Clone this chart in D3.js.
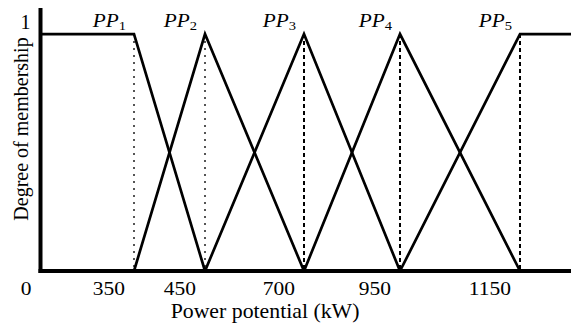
<!DOCTYPE html>
<html>
<head>
<meta charset="utf-8">
<script src="https://cdn.jsdelivr.net/npm/d3@7"></script>
<style>
  body { margin: 0; background: #fff; }
  svg { display: block; }
  svg text { font-family: "Liberation Serif", "Times New Roman", Times, "DejaVu Serif", serif; }
</style>
</head>
<body>
<div class="chart"></div>
<script>
// power potential breakpoints (kW) and tick labels
var tickValues = [0, 350, 450, 700, 950, 1150];
var xMax = 1300;

// membership functions, as [kW, degree] points
var setNames = ["1", "2", "3", "4", "5"];
var pp1 = [[0, 1], [350, 1], [450, 0]];
var pp2 = [[350, 0], [450, 1], [700, 0]];
var pp3 = [[450, 0], [700, 1], [950, 0]];
var pp4 = [[700, 0], [950, 1], [1150, 0]];
var pp5 = [[950, 0], [1150, 1], [1300, 1]];
var sets = [pp1, pp2, pp3, pp4, pp5];

// where each set reaches 1 (label + guide line)
var peaks = [350, 450, 700, 950, 1150];

var serif = "'Liberation Serif', 'Times New Roman', Times, 'DejaVu Serif', serif";

var svgWidth = 571;
var svgHeight = 331;

var svg = d3.select(".chart")
  .append("svg")
  .attr("width", svgWidth)
  .attr("height", svgHeight)
  .attr("font-family", serif);

// the x axis of the original is a schematic, not linear
var xScale = d3.scaleLinear()
  .domain([0, 350, 450, 700, 950, 1150, xMax])
  .range([40.5, 134, 205, 304, 400, 520, 571]);

var yScale = d3.scaleLinear()
  .domain([0, 1.11])
  .range([271, 8]);

// guide lines from the peaks down to the axis
svg.selectAll(".guide")
  .data(peaks)
  .enter()
  .append("line")
  .attr("class", "guide")
  .attr("x1", d => xScale(d))
  .attr("x2", d => xScale(d))
  .attr("y1", yScale(1))
  .attr("y2", yScale(0))
  .attr("stroke", (d, i) => i < 2 ? "#555" : "#000")
  .attr("stroke-width", 2)
  .attr("stroke-dasharray", (d, i) => i < 2 ? "2,5" : "4,3");

// membership lines
var line = d3.line()
  .x(d => xScale(d[0]))
  .y(d => yScale(d[1]));

svg.selectAll(".mf")
  .data(sets)
  .enter()
  .append("path")
  .attr("class", "mf")
  .attr("d", line)
  .attr("fill", "none")
  .attr("stroke", "#000")
  .attr("stroke-width", 2.7)
  .attr("stroke-linejoin", "miter");

// set labels PP1..PP5 (text in the original is a bit wide, so stretch it)
var labels = svg.selectAll(".pp")
  .data(peaks)
  .enter()
  .append("text")
  .attr("class", "pp")
  .attr("transform", d => `translate(${xScale(d) - 8}, 27) scale(1.12, 1)`)
  .attr("text-anchor", "end")
  .style("font-size", "19px")
  .style("font-style", "italic");

labels.append("tspan").text("PP");
labels.append("tspan")
  .attr("dy", 3)
  .style("font-size", "13px")
  .style("font-style", "normal")
  .text((d, i) => setNames[i]);

// x axis
var xAxis = d3.axisBottom(xScale)
  .tickValues(tickValues)
  .tickSize(0)
  .tickSizeOuter(0)
  .tickFormat(d3.format("d"));

var xg = svg.append("g")
  .attr("transform", `translate(0, ${yScale(0)})`)
  .call(xAxis)
  .attr("font-family", serif)
  .attr("font-size", 19);

xg.select(".domain")
  .attr("d", `M${xScale(0) - 2},0H${svgWidth}`)
  .attr("stroke-width", 4);

xg.selectAll("text")
  .attr("x", -8.5)
  .attr("y", 24)
  .attr("dy", 0)
  .attr("transform", "scale(1.13, 1)")
  .attr("text-anchor", "end")
  .attr("fill", "#000");

// y axis
var yAxis = d3.axisLeft(yScale)
  .tickValues([1])
  .tickSize(0)
  .tickSizeOuter(0)
  .tickFormat(d3.format("d"));

var yg = svg.append("g")
  .attr("transform", `translate(${xScale(0)}, 0)`)
  .call(yAxis)
  .attr("font-family", serif)
  .attr("font-size", 20);

yg.select(".domain")
  .attr("d", `M0,${yScale(0) + 2}V${yScale(1.11)}`)
  .attr("stroke-width", 4);

yg.selectAll("text")
  .attr("x", -10)
  .attr("dy", "-0.3em")
  .attr("fill", "#000");

// axis titles
svg.append("text")
  .attr("transform", "translate(265, 318) scale(1.09, 1)")
  .attr("text-anchor", "middle")
  .style("font-size", "20px")
  .text("Power potential (kW)");

svg.append("text")
  .attr("transform", "translate(27.5, 129) rotate(-90)")
  .attr("text-anchor", "middle")
  .style("font-size", "20px")
  .text("Degree of membership");
</script>
</body>
</html>
